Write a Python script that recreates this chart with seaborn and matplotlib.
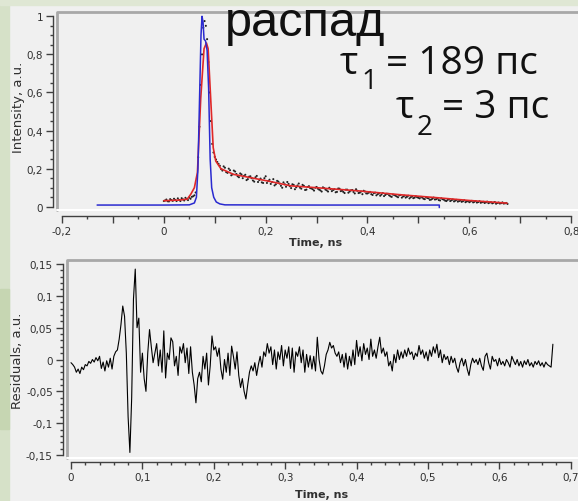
import numpy as np
import pandas as pd
import matplotlib
matplotlib.use('Agg')
import matplotlib.pyplot as plt
from matplotlib.ticker import MultipleLocator, FuncFormatter
from matplotlib.patches import Rectangle
import seaborn as sns

# measured decay on the 5 ps grid, 0 .. 0.675 ns (values x1e-3)
decay_even = [
    30, 38, 28, 35, 42, 30, 36, 45, 33, 40, 48, 52, 60, 150, 420, 800, 975, 880, 600, 330,
    262, 235, 215, 190, 205, 178, 192, 170, 185, 160, 175, 150, 168, 145, 160, 138, 155, 130, 148, 125,
    160, 135, 120, 145, 118, 132, 110, 128, 105, 120, 98, 115, 102, 122, 95, 110, 90, 108, 96, 85,
    104, 90, 80, 98, 86, 100, 82, 92, 78, 95, 84, 72, 90, 80, 88, 70, 84, 74, 66, 80,
    70, 78, 62, 74, 66, 58, 72, 62, 68, 55, 64, 58, 50, 62, 54, 48, 58, 50, 45, 55,
    47, 52, 42, 50, 44, 38, 48, 40, 35, 44, 37, 30, 40, 34, 28, 36, 30, 26, 34, 28,
    24, 31, 26, 22, 29, 24, 20, 27, 22, 18, 25, 20, 17, 23, 18, 15,
]
# measured decay, channels in between (0.0025 .. 0.6725 ns)
decay_odd = [
    33, 29, 40, 31, 36, 44, 30, 39, 47, 35, 42, 55, 75, 260, 640, 940, 950, 760, 450, 285,
    248, 225, 198, 212, 182, 200, 165, 190, 172, 155, 170, 162, 140, 158, 150, 132, 162, 140, 128, 150,
    125, 142, 130, 112, 136, 122, 100, 118, 130, 108, 118, 92, 112, 100, 115, 88, 104, 98, 92, 100,
    95, 86, 102, 90, 80, 93, 88, 76, 96, 82, 78, 90, 74, 86, 78, 92, 72, 80, 84, 70,
    74, 66, 72, 60, 70, 64, 56, 68, 60, 52, 62, 54, 60, 48, 58, 52, 44, 54, 48, 50,
    44, 48, 40, 46, 36, 42, 38, 44, 33, 40, 32, 36, 30, 38, 32, 27, 33, 29, 24, 30,
    28, 23, 30, 25, 21, 26, 23, 19, 24, 21, 16, 22, 19, 17, 20,
]

# two-exponential fit (red)
fit_time = [0.0, 0.03, 0.046, 0.053, 0.06, 0.066, 0.0725, 0.079, 0.0837, 0.087, 0.092,
            0.097, 0.102, 0.112, 0.137, 0.203, 0.249, 0.30, 0.38, 0.465, 0.53, 0.60, 0.674]
fit_vals = [0.032, 0.035, 0.04, 0.066, 0.10, 0.18, 0.57, 0.83, 0.86, 0.83, 0.57,
            0.31, 0.24, 0.20, 0.17, 0.136, 0.11, 0.10, 0.084, 0.063, 0.049, 0.033, 0.019]

# instrument response (blue)
irf_time = [-0.131, 0.0, 0.05, 0.06, 0.064, 0.067, 0.070, 0.073, 0.075, 0.077, 0.079,
            0.082, 0.085, 0.088, 0.091, 0.094, 0.098, 0.103, 0.11, 0.12, 0.3, 0.541, 0.541]
irf_vals = [0.009, 0.009, 0.01, 0.02, 0.05, 0.2, 0.55, 0.9, 1.0, 0.97, 0.88,
            0.87, 0.82, 0.62, 0.25, 0.1, 0.05, 0.025, 0.015, 0.01, 0.009, 0.009, -0.004]

# residuals on the 2.5 ps grid, 0 .. 0.675 ns (values x1e-3)
res_vals = [
    -5, -8, -12, -20, -15, -22, -12, -16, -8, -10, -3, -6, 0, -4, 3, -2, 5, -14, -4, -18,
    -2, -12, 2, -15, 5, 12, 15, 32, 55, 84, 68, 10, -90, -146, -60, 95, 142, 50, 65, -20,
    10, -30, -50, 10, 47, 20, -5, 10, 25, -10, 15, -20, 45, -29, 10, 0, 34, 28, -10, 5,
    -25, 20, 10, 25, -5, 18, -22, 20, -20, -40, -68, -30, -20, -35, 5, -15, 10, -40, -10, 37,
    15, 20, 5, 18, -15, -31, 0, -20, 10, -25, 21, 5, -15, 12, -25, -44, -30, -50, -62, -40,
    -20, -10, -18, -5, -25, -8, 5, -12, 12, 5, 25, 10, 20, -8, 15, -15, 12, 0, 22, -10,
    15, 2, 20, -14, 18, -20, 12, 5, 20, -5, 15, -20, 8, -12, 6, -15, 5, -18, 35, 0,
    -18, -23, -10, 8, 15, 27, 18, 22, 10, 5, 12, -5, 8, -12, 10, -15, 5, -10, 15, -8,
    30, 5, 20, -2, 25, 8, 18, 0, 32, 5, 15, 2, 20, 35, 10, 18, 5, 12, -10, -3,
    -18, 8, -5, 15, 0, 12, 2, 15, 5, 18, 8, 12, 0, 10, 5, 22, 8, 15, 2, 12,
    -2, 15, 5, 20, 10, 24, 3, 15, -5, 8, 0, 5, -8, 5, -5, 2, -12, -20, -5, 2,
    -10, 0, -15, -25, -8, 2, -5, 0, -8, 2, -10, -17, 5, 10, -5, -15, 5, -3, 0, -10,
    2, -8, -3, -10, 0, -5, -12, 5, -2, -8, 0, -10, -3, -12, -2, -8, 0, -10, -5, -12,
    -3, -8, -2, -10, -5, -12, -4, -8, -10, -12, 24,
]

t_start, t_end = 0.0, 0.675

decay_all = np.empty(len(decay_even) + len(decay_odd))
decay_all[0::2] = decay_even
decay_all[1::2] = decay_odd
decay = pd.DataFrame({'time': np.linspace(t_start, t_end, len(decay_all)),
                      'intensity': decay_all / 1000})
fit = pd.DataFrame({'time': fit_time, 'intensity': fit_vals})
irf = pd.DataFrame({'time': irf_time, 'intensity': irf_vals})
resid = pd.DataFrame({'time': np.linspace(t_start, t_end, len(res_vals)),
                      'residual': np.array(res_vals) / 1000})

sns.set_theme(style='ticks')
plt.rcParams['font.family'] = ['DejaVu Sans']
plt.rcParams['axes.facecolor'] = '#f0f0f0'

W, H = 578, 502
fig = plt.figure(figsize=(W / 100, H / 100), dpi=100, facecolor='#f0f0f0')

# greenish slide background showing at the edges
fig.add_artist(Rectangle((0, 0), 9 / W, 1, transform=fig.transFigure, color='#d6e1c8', zorder=0))
fig.add_artist(Rectangle((0, 1 - 430 / H), 9 / W, 140 / H, transform=fig.transFigure,
                         color='#c6d6b2', zorder=0))
fig.add_artist(Rectangle((0, 1 - 6 / H), 1, 6 / H, transform=fig.transFigure, color='#dfe7d4', zorder=0))

ax1 = fig.add_axes([57 / W, 1 - 211 / H, 533 / W, 198 / H])
ax2 = fig.add_axes([67 / W, 1 - 459 / H, 523 / W, 198 / H])


def comma(step):
    def f(v, pos):
        if abs(v / step - round(v / step)) > 1e-6:
            return ''
        if abs(v) < 1e-9:
            return '0'
        return f"{round(v, 3):g}".replace('.', ',')
    return FuncFormatter(f)


def style(ax, xbounds, ybounds, xmaj, xmin, xlab, ymaj, ymin, ylab, loff, boff):
    for s in ['top', 'right']:
        ax.spines[s].set_visible(False)
    ax.spines['left'].set_position(('outward', loff))
    ax.spines['bottom'].set_position(('outward', boff))
    ax.spines['left'].set_bounds(*ybounds)
    ax.spines['bottom'].set_bounds(*xbounds)
    for s in ['left', 'bottom']:
        ax.spines[s].set_color('#404040')
        ax.spines[s].set_linewidth(1.0)
    ax.xaxis.set_major_locator(MultipleLocator(xmaj))
    ax.xaxis.set_minor_locator(MultipleLocator(xmin))
    ax.yaxis.set_major_locator(MultipleLocator(ymaj))
    ax.yaxis.set_minor_locator(MultipleLocator(ymin))
    ax.xaxis.set_major_formatter(comma(xlab))
    ax.yaxis.set_major_formatter(comma(ylab))
    ax.tick_params(which='major', length=5, width=1, color='#404040', labelsize=7.5,
                   labelcolor='#303030', pad=2)
    ax.tick_params(which='minor', length=2.5, width=1, color='#404040')
    # inset frame: shadow on top/left, highlight at the bottom
    ax.plot([0, 0, 1], [0, 1, 1], transform=ax.transAxes, color='#a8a8a8', lw=2, clip_on=False)
    ax.plot([0, 1], [0, 0], transform=ax.transAxes, color='white', lw=1.5, clip_on=False)


# top panel
sns.scatterplot(data=decay, x='time', y='intensity', ax=ax1, color='#202020', s=2.2,
                edgecolor='none', zorder=2)
sns.lineplot(data=fit, x='time', y='intensity', ax=ax1, color='#e02828', lw=1.2,
             sort=False, estimator=None, zorder=3)
sns.lineplot(data=irf, x='time', y='intensity', ax=ax1, color='#2a2ad0', lw=1.1,
             sort=False, estimator=None, zorder=4)
ax1.set_xlim(-0.2098, 0.837)
ax1.set_ylim(-0.017, 1.0226)
style(ax1, (-0.2, 0.8), (0, 1), 0.1, 0.05, 0.2, 0.2, 0.05, 0.2, 3, 4.3)
ax1.set_xlabel('Time, ns', fontsize=8, fontweight='bold', color='#303030', va='center')
ax1.xaxis.set_label_coords(0.486, -0.162)
ax1.set_ylabel('Intensity, a.u.', fontsize=9.5, color='#303030', va='center')
ax1.yaxis.set_label_coords(-0.0713, 0.525)

# bottom panel
sns.lineplot(data=resid, x='time', y='residual', ax=ax2, color='black', lw=0.8,
             sort=False, estimator=None)
ax2.set_xlim(-0.0056, 0.727)
ax2.set_ylim(-0.1547, 0.1563)
style(ax2, (0, 0.7), (-0.15, 0.15), 0.1, 0.02, 0.1, 0.05, 0.01, 0.05, 3.2, 2.9)
ax2.set_xlabel('Time, ns', fontsize=8, fontweight='bold', color='#303030', va='center')
ax2.xaxis.set_label_coords(0.486, -0.182)
ax2.set_ylabel('Residuals, a.u.', fontsize=9.5, color='#303030', va='center')
ax2.yaxis.set_label_coords(-0.0937, 0.495)


def px(x, y):
    return x / W, 1 - y / H


# slide annotations
fig.text(*px(225, 36), 'распад', fontsize=35, family=['Liberation Sans'],
         color='#111111', va='baseline', ha='left')
big = dict(fontsize=28, family=['Open Sans'], color='#111111', va='baseline', ha='left')
small = dict(fontsize=20, family=['Open Sans'], color='#111111', va='baseline', ha='left')
fig.text(*px(340, 74), 'τ', **big)
fig.text(*px(361, 89), '1', **small)
fig.text(*px(386, 74), '= 189 пс', **big)
fig.text(*px(396, 118), 'τ', **big)
fig.text(*px(417, 135), '2', **small)
fig.text(*px(442, 118), '= 3 пс', **big)

plt.savefig('out.png', dpi=100, facecolor=fig.get_facecolor())
